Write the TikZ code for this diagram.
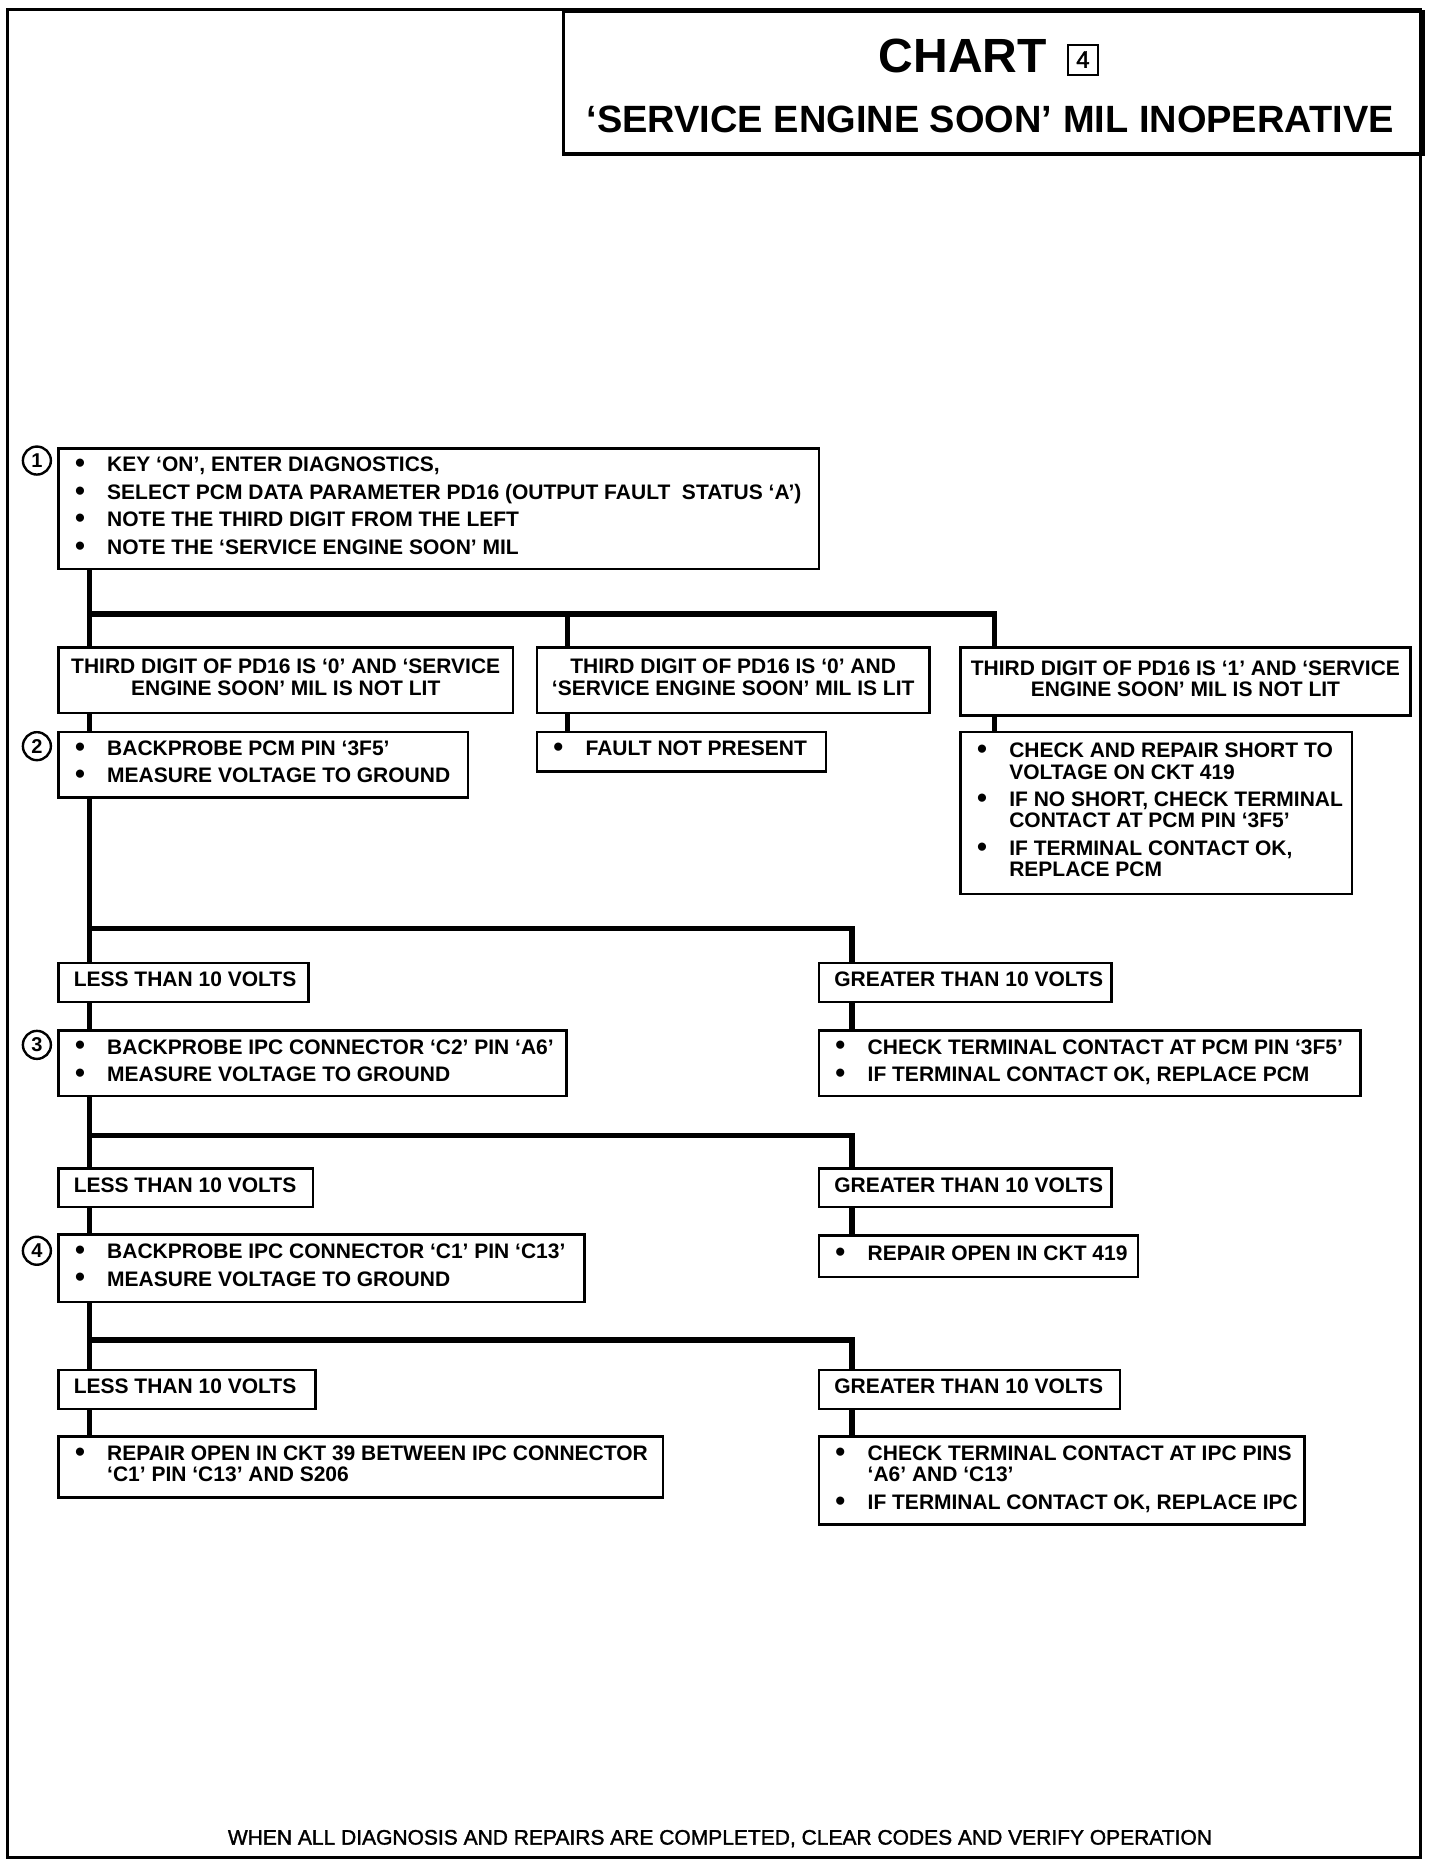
\documentclass[tikz,border=0pt]{standalone}
\usepackage{fontspec}
\setmainfont[FakeBold=1.6]{Liberation Sans}
\newfontfamily\titlefont[Ligatures=TeX]{Liberation Sans}
\usetikzlibrary{calc}
\newcommand\uu{0.595}
\newcommand\bl{\makebox[16.7pt][l]{\hspace{0.6pt}\raisebox{-0.4pt}{\scalebox{1.35}{\textbullet}}}}
\newcommand\ct{\hspace*{16.7pt}}
\tikzset{
  boxst/.style={draw, line width=1.3pt, inner xsep=7.7pt, inner ysep=0pt,
    font=\fontsize{10.5}{10.7}\titlefont\bfseries},
  conn/.style={line width=2.6pt},
  num/.style={circle, draw, line width=1.2pt, minimum size=14pt, inner sep=0pt,
    font=\fontsize{10}{10}\titlefont\bfseries},
}
\newcommand\mkbox[7]{%
  \pgfmathsetmacro\bw{(#4-#2)*\uu}%
  \pgfmathsetmacro\bh{(#5-#3)*\uu}%
  \pgfmathsetmacro\tw{\bw-15.4}%
  \node[boxst, anchor=north west, minimum width=\bw pt, minimum height=\bh pt]
    (#1) at (#2,#3) {\makebox[\tw pt][#6]{\begin{tabular}{@{}#6@{}}#7\end{tabular}}};}
\begin{document}
\begin{tikzpicture}[x=0.595pt, y=-0.595pt]
\useasboundingbox (0,0) rectangle (1210,1568);
% outer frame
\draw[line width=1.5pt] (6,8) rectangle (1194,1561);
% title box
\node[draw, line width=1.8pt, anchor=north west, minimum width=722*0.595pt,
  minimum height=120*0.595pt, inner sep=0pt] (ttl) at (472,8) {};
\node[font=\fontsize{24}{24}\titlefont\bfseries] (chart) at (809,47) {CHART};
\node[draw, line width=1pt, inner sep=0pt, minimum width=15pt, minimum height=15pt,
  font=\fontsize{12}{12}\selectfont] (chartnum) at (910,50) {4};
\node[font=\fontsize{19}{19}\titlefont\bfseries] (subttl) at (832,100)
  {`SERVICE ENGINE SOON' MIL INOPERATIVE};

% boxes
\mkbox{b1}{48}{376}{687}{477}{l}{\bl KEY `ON', ENTER DIAGNOSTICS,\\[3pt]
  \bl SELECT PCM DATA PARAMETER PD16 (OUTPUT FAULT \ STATUS `A')\\[3pt]
  \bl NOTE THE THIRD DIGIT FROM THE LEFT\\[3pt]
  \bl NOTE THE `SERVICE ENGINE SOON' MIL}
\mkbox{t1}{48}{543}{430}{598}{c}{THIRD DIGIT OF PD16 IS `0' AND `SERVICE\\ENGINE SOON' MIL IS NOT LIT}
\mkbox{t2}{450}{543}{780}{598}{c}{THIRD DIGIT OF PD16 IS `0' AND\\`SERVICE ENGINE SOON' MIL IS LIT}
\mkbox{t3}{806}{543}{1184}{600}{c}{THIRD DIGIT OF PD16 IS `1' AND `SERVICE\\ENGINE SOON' MIL IS NOT LIT}
\mkbox{b2}{48}{614}{392}{669}{l}{\bl BACKPROBE PCM PIN `3F5'\\[3pt]\bl MEASURE VOLTAGE TO GROUND}
\mkbox{f2}{450}{614}{693}{647}{l}{\bl FAULT NOT PRESENT}
\mkbox{r3}{806}{614}{1135}{750}{l}{\bl CHECK AND REPAIR SHORT TO\\\ct VOLTAGE ON CKT 419\\[3pt]
  \bl IF NO SHORT, CHECK TERMINAL\\\ct CONTACT AT PCM PIN `3F5'\\[3pt]
  \bl IF TERMINAL CONTACT OK,\\\ct REPLACE PCM}
\mkbox{l1}{48}{808}{258}{841}{l}{LESS THAN 10 VOLTS}
\mkbox{g1}{687}{808}{933}{841}{l}{GREATER THAN 10 VOLTS}
\mkbox{b3}{48}{865}{475}{920}{l}{\bl BACKPROBE IPC CONNECTOR `C2' PIN `A6'\\[3pt]\bl MEASURE VOLTAGE TO GROUND}
\mkbox{g1r}{687}{865}{1142}{920}{l}{\bl CHECK TERMINAL CONTACT AT PCM PIN `3F5'\\[3pt]\bl IF TERMINAL CONTACT OK, REPLACE PCM}
\mkbox{l2}{48}{981}{262}{1013}{l}{LESS THAN 10 VOLTS}
\mkbox{g2}{687}{981}{933}{1013}{l}{GREATER THAN 10 VOLTS}
\mkbox{b4}{48}{1036}{490}{1093}{l}{\bl BACKPROBE IPC CONNECTOR `C1' PIN `C13'\\[3pt]\bl MEASURE VOLTAGE TO GROUND}
\mkbox{g2r}{687}{1037}{955}{1072}{l}{\bl REPAIR OPEN IN CKT 419}
\mkbox{l3}{48}{1150}{264}{1183}{l}{LESS THAN 10 VOLTS}
\mkbox{g3}{687}{1150}{940}{1183}{l}{GREATER THAN 10 VOLTS}
\mkbox{l3r}{48}{1206}{556}{1257}{l}{\bl REPAIR OPEN IN CKT 39 BETWEEN IPC CONNECTOR\\\ct `C1' PIN `C13' AND S206}
\mkbox{g3r}{687}{1206}{1095}{1280}{l}{\bl CHECK TERMINAL CONTACT AT IPC PINS\\\ct `A6' AND `C13'\\[3pt]\bl IF TERMINAL CONTACT OK, REPLACE IPC}

% step numbers
\node[num] (c1) at (31,387) {1};
\node[num] (c2) at (31,627) {2};
\node[num] (c3) at (31,878) {3};
\node[num] (c4) at (31,1051) {4};

% connector coordinates
\coordinate (tx) at (75,0);
\coordinate (rx) at (716,0);
\coordinate (d2) at (477,0);
\coordinate (d3) at (836,0);
\coordinate (bar1) at (75,516);
\coordinate (bar2) at (75,780);
\coordinate (bar3) at (75,954);
\coordinate (bar4) at (75,1126);

% connectors
\draw[conn] (b1.south -| tx) -- (t1.north -| tx);
\draw[conn] (bar1) -| (t3.north -| d3);
\draw[conn] (bar1 -| d2) -- (t2.north -| d2);
\draw[conn] (t1.south -| tx) -- (b2.north -| tx);
\draw[conn] (t2.south -| d2) -- (f2.north -| d2);
\draw[conn] (t3.south -| d3) -- (r3.north -| d3);

\draw[conn] (b2.south -| tx) -- (l1.north -| tx);
\draw[conn] (bar2) -| (g1.north -| rx);
\draw[conn] (l1.south -| tx) -- (b3.north -| tx);
\draw[conn] (g1.south -| rx) -- (g1r.north -| rx);

\draw[conn] (b3.south -| tx) -- (l2.north -| tx);
\draw[conn] (bar3) -| (g2.north -| rx);
\draw[conn] (l2.south -| tx) -- (b4.north -| tx);
\draw[conn] (g2.south -| rx) -- (g2r.north -| rx);

\draw[conn] (b4.south -| tx) -- (l3.north -| tx);
\draw[conn] (bar4) -| (g3.north -| rx);
\draw[conn] (l3.south -| tx) -- (l3r.north -| tx);
\draw[conn] (g3.south -| rx) -- (g3r.north -| rx);

% footer
\node[font=\fontsize{10.5}{12}\selectfont] (foot) at (605,1545)
  {WHEN ALL DIAGNOSIS AND REPAIRS ARE COMPLETED, CLEAR CODES AND VERIFY OPERATION};
\end{tikzpicture}
\end{document}
